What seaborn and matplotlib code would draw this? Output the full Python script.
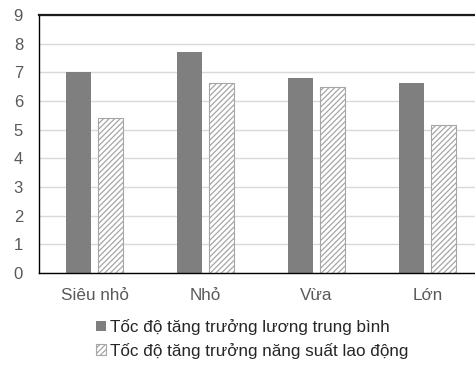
import matplotlib
matplotlib.use("Agg")
import matplotlib.pyplot as plt
import seaborn as sns
import pandas as pd
from matplotlib.patches import Patch

categories = ["Siêu nhỏ", "Nhỏ", "Vừa", "Lớn"]
series_names = ["Tốc độ tăng trưởng lương trung bình",
                "Tốc độ tăng trưởng năng suất lao động"]
wage_growth = [7.0, 7.7, 6.8, 6.62]
productivity_growth = [5.4, 6.62, 6.48, 5.17]
y_ticks = [0, 1, 2, 3, 4, 5, 6, 7, 8, 9]

df = pd.DataFrame({
    "category": categories * 2,
    "series": [series_names[0]] * 4 + [series_names[1]] * 4,
    "value": wage_growth + productivity_growth,
})

sns.set_theme(style="white")
plt.rcParams["font.family"] = ["Liberation Sans", "DejaVu Sans"]
plt.rcParams["hatch.color"] = "#9a9a9a"
plt.rcParams["hatch.linewidth"] = 0.9

fig = plt.figure(figsize=(4.75, 3.67), dpi=100)
ax = fig.add_axes([39 / 475, 1 - 273 / 367, 444 / 475, 258 / 367])

dark = "#7f7f7f"
sns.barplot(data=df, x="category", y="value", hue="series",
            palette=[dark, "white"], width=0.576, gap=0.22,
            ax=ax, legend=False, saturation=1)

# hatched style for the productivity series
n = len(categories)
for i, bar in enumerate(ax.patches):
    if i >= n:
        bar.set_hatch("//////")
        bar.set_edgecolor("#a6a6a6")
        bar.set_linewidth(0.8)
        bar.set_facecolor("white")
    else:
        bar.set_edgecolor("none")

ax.set_xlim(-0.5, 3.5)
ax.set_ylim(0, 9)
ax.set_yticks(y_ticks)
ax.set_xlabel("")
ax.set_ylabel("")
ax.yaxis.grid(True, color="#d9d9d9", linewidth=1)
ax.set_axisbelow(True)
ax.tick_params(axis="y", length=0, pad=11.5, labelsize=12, labelcolor="#595959")
ax.tick_params(axis="x", length=0, pad=10.5, labelsize=12.3, labelcolor="#595959")

for side in ["left", "bottom"]:
    ax.spines[side].set_color("black")
    ax.spines[side].set_linewidth(1.0)
ax.spines["top"].set_color("#1a1a1a")
ax.spines["top"].set_linewidth(1.6)
ax.spines["right"].set_visible(False)

handles = [
    Patch(facecolor=dark, edgecolor="none", label=series_names[0]),
    Patch(facecolor="white", edgecolor="#a6a6a6", hatch="//////",
          linewidth=0.8, label=series_names[1]),
]
fig.legend(handles=handles, loc="upper left", bbox_to_anchor=(96 / 475, 1 - 319 / 367),
           frameon=False, fontsize=12.3, handlelength=0.6, handleheight=0.6,
           handletextpad=0.2, labelspacing=0.45, borderaxespad=0, borderpad=0)

fig.savefig("out.png", dpi=100)
